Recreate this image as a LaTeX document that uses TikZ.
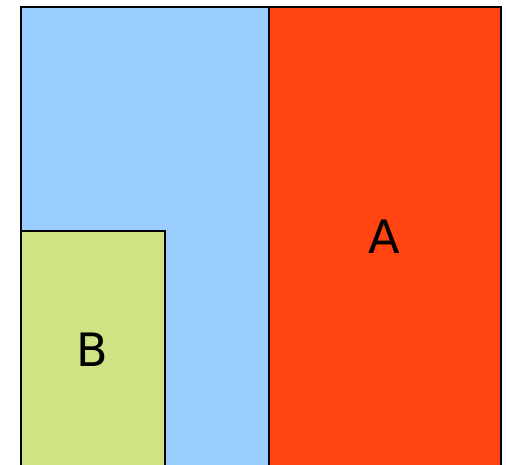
\documentclass[tikz,border=0pt]{standalone}
\usepackage{fontspec}
\setmainfont{DejaVu Sans}
\definecolor{cblue}{HTML}{99CCFF}
\definecolor{cred}{HTML}{FF4411}
\definecolor{cgreen}{HTML}{CFE384}
\begin{document}
\begin{tikzpicture}[x=1pt,y=-1pt,
  box/.style={draw=black,line width=1.6pt,rectangle,inner sep=0pt,anchor=north west},
  lbl/.style={font=\fontsize{46}{50}\selectfont,inner sep=0pt}]
\useasboundingbox (0,0) rectangle (506,465);
\clip (0,0) rectangle (506,465);
\node[box,fill=cblue,minimum width=248pt,minimum height=470pt] (blue) at (20,6) {};
\node[box,fill=cred,minimum width=232pt,minimum height=470pt] (red) at (268,6) {};
\node[box,fill=cgreen,minimum width=144pt,minimum height=250pt] (green) at (20,230) {};
\node[lbl] (A) at (384,237) {A};
\node[lbl] (B) at (92,350) {B};
\end{tikzpicture}
\end{document}
